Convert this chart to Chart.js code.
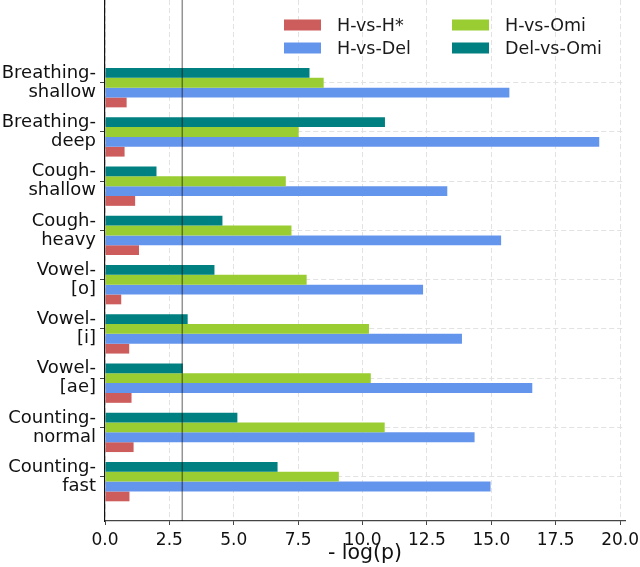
<!DOCTYPE html>
<html><head><meta charset="utf-8">
<script src="https://cdn.jsdelivr.net/npm/chart.js@4.4.1/dist/chart.umd.min.js"></script>
<style>html,body{margin:0;padding:0;background:#fff}#wrap{width:640px;height:567px;position:relative}</style>
</head><body><div id="wrap"><canvas id="c"></canvas></div>
<script>
// ---- data ----
const categories = [
  ["Breathing-", "shallow"], ["Breathing-", "deep"], ["Cough-", "shallow"],
  ["Cough-", "heavy"], ["Vowel-", "[o]"], ["Vowel-", "[i]"], ["Vowel-", "[ae]"],
  ["Counting-", "normal"], ["Counting-", "fast"]
];
const seriesNames = ["Del-vs-Omi", "H-vs-Omi", "H-vs-Del", "H-vs-H*"];
const delVsOmi = [7.94, 10.87, 2.00, 4.56, 4.25, 3.21, 3.02, 5.14, 6.70];
const hVsOmi   = [8.49, 7.52, 7.02, 7.24, 7.83, 10.25, 10.32, 10.86, 9.08];
const hVsDel   = [15.70, 19.19, 13.29, 15.38, 12.35, 13.86, 16.59, 14.35, 14.97];
const hVsHStar = [0.84, 0.76, 1.17, 1.32, 0.63, 0.94, 1.03, 1.11, 0.95];
const xTickValues = [0, 2.5, 5, 7.5, 10, 12.5, 15, 17.5, 20];
const threshold = 3;
const legendColumns = [["H-vs-H*", "H-vs-Del"], ["H-vs-Omi", "Del-vs-Omi"]];

// ---- styles ----
const colors = {"Del-vs-Omi": "#008080", "H-vs-Omi": "#9acd32", "H-vs-Del": "#6495ed", "H-vs-H*": "#cd5c5c"};
const FONT = "'DejaVu Sans', sans-serif";
const groupOffset = 0.1; // bar group centre sits below the tick (matplotlib offset bars)

const seriesValues = [delVsOmi, hVsOmi, hVsDel, hVsHStar];
const datasets = seriesNames.map((name, k) => ({
  label: name,
  data: seriesValues[k].map((v, i) => ({x: v, y: i + groupOffset})),
  backgroundColor: colors[name],
  borderWidth: 0,
  categoryPercentage: 0.8,
  barPercentage: 1.0
}));

const extras = {
  id: 'extras',
  afterDatasetsDraw(chart) {
    const ctx = chart.ctx, xs = chart.scales.x, a = chart.chartArea;
    const px = xs.getPixelForValue(threshold);
    ctx.save();
    ctx.strokeStyle = 'rgba(0,0,0,0.42)';
    ctx.lineWidth = 1.5;
    ctx.beginPath(); ctx.moveTo(px, a.top); ctx.lineTo(px, a.bottom); ctx.stroke();
    ctx.restore();
  },
  afterDraw(chart) {
    const ctx = chart.ctx;
    ctx.save();
    ctx.font = "17.5px " + FONT;
    ctx.textBaseline = 'middle';
    ctx.textAlign = 'left';
    const colX = [284, 452], rowY = [25, 48];
    legendColumns.forEach((col, c) => col.forEach((name, r) => {
      ctx.fillStyle = colors[name];
      ctx.fillRect(colX[c], rowY[r] - 5.5, 37, 11);
      ctx.fillStyle = '#1a1a1a';
      ctx.fillText(name, colX[c] + 53, rowY[r] + 1);
    }));
    ctx.restore();
  }
};

new Chart(document.getElementById('c'), {
  type: 'bar',
  data: {datasets},
  plugins: [extras],
  options: {
    indexAxis: 'y',
    responsive: true,
    maintainAspectRatio: false,
    animation: false,
    devicePixelRatio: 1,
    layout: {padding: {top: 0, right: 15, bottom: 0, left: 0}},
    plugins: {legend: {display: false}, tooltip: {enabled: false}},
    scales: {
      x: {
        type: 'linear', min: 0, max: 20.19,
        afterBuildTicks: s => { s.ticks = xTickValues.map(v => ({value: v})); },
        afterFit: s => { s.height = 46; s.paddingLeft = 0; s.paddingRight = 0; },
        ticks: {callback: v => v.toFixed(1), color: '#111', font: {family: FONT, size: 17}, padding: 5, maxRotation: 0, autoSkip: false},
        grid: {color: '#e2e2e2', lineWidth: 1, tickColor: '#444', tickLength: 4},
        border: {display: true, color: '#444', width: 1.2, dash: [5, 3]},
        title: {display: true, text: '- log(p)', color: '#111', font: {family: FONT, size: 20.5}, padding: {top: 0, bottom: 1}}
      },
      y: {
        type: 'linear', min: -1.68, max: 8.9, reverse: true, offset: false,
        afterBuildTicks: s => { s.ticks = categories.map((c, i) => ({value: i})); },
        afterFit: s => { s.width = 105; s.paddingTop = 0; s.paddingBottom = 0; },
        ticks: {callback: v => categories[Math.round(v)], color: '#111', font: {family: FONT, size: 18, lineHeight: 1.05}, padding: 4, autoSkip: false},
        grid: {offset: false, color: '#e2e2e2', lineWidth: 1, tickColor: '#444', tickLength: 5},
        border: {display: true, color: '#111', width: 1.2, dash: [5, 3]}
      }
    }
  }
});
</script></body></html>
